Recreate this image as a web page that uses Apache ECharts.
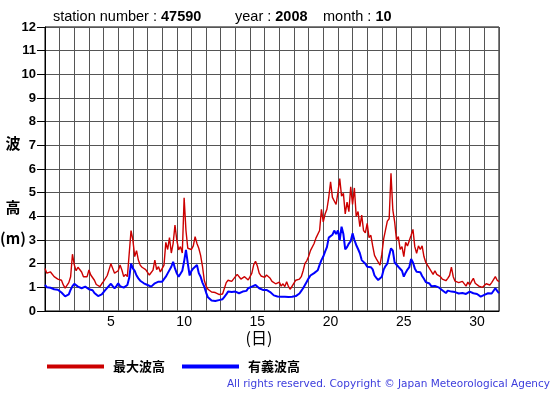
<!DOCTYPE html>
<html>
<head>
<meta charset="utf-8">
<script src="https://cdn.jsdelivr.net/npm/echarts@6/dist/echarts.min.js"></script>
<style>
html,body{margin:0;padding:0;background:#fff;}
#chart{width:555px;height:395px;}
</style>
</head>
<body>
<div id="chart"></div>
<script>
// ---- data (3-hourly samples, Oct 2008, station 47590) ----
const STEP_HOURS = 3;
const seriesNames = ['最大波高', '有義波高'];
const dayLabels = [5, 10, 15, 20, 25, 30];
const yTicks = [0,1,2,3,4,5,6,7,8,9,10,11,12];
const titleStation = '47590';
const titleYear = '2008';
const titleMonth = '10';

const maxWave = [
1.80,1.60,1.55,1.65,1.72,1.45,1.52,1.35,
1.28,1.30,1.10,0.97,1.05,1.20,1.45,2.40,
1.95,1.70,1.85,1.90,1.65,1.45,1.50,1.45,
1.73,1.52,1.60,1.30,1.12,1.08,1.03,1.15,
1.25,1.24,1.50,1.75,2.00,1.80,1.60,1.65,
1.70,1.94,1.73,1.45,1.55,1.45,1.50,3.40,
3.00,2.30,2.55,2.15,1.94,1.85,1.80,1.75,
1.70,1.52,1.60,1.73,2.15,1.75,1.87,1.65,
1.60,1.94,2.90,2.60,3.10,2.45,2.86,3.63,
3.00,2.58,2.72,2.45,4.78,3.40,2.65,2.72,
2.60,2.75,3.14,2.85,2.65,2.35,1.90,1.30,
1.05,0.92,0.85,0.80,0.75,0.78,0.82,0.70,
0.62,0.72,0.80,1.20,1.30,1.38,1.25,1.20,
1.45,1.55,1.58,1.35,1.38,1.45,1.40,1.31,
1.45,1.60,1.95,2.10,1.90,1.60,1.48,1.45,
1.42,1.52,1.45,1.38,1.25,1.20,1.15,1.08,
1.22,1.05,1.15,1.03,1.24,1.03,0.92,1.05,
1.18,1.30,1.38,1.35,1.45,1.70,2.01,2.12,
2.30,2.55,2.50,2.85,3.08,3.10,3.40,4.30,
3.77,4.10,4.30,4.80,5.46,4.80,4.85,4.50,
5.00,5.60,4.85,4.97,4.10,4.60,4.20,5.25,
4.50,5.20,4.00,4.20,3.56,4.05,3.40,3.30,
3.70,3.10,3.20,2.75,2.35,2.20,2.23,1.94,
2.40,3.05,3.00,3.80,3.90,5.82,4.27,3.77,
3.00,3.14,2.60,2.72,2.30,2.90,2.75,2.70,
3.20,3.45,2.72,2.44,2.75,2.60,2.75,2.30,
2.05,2.10,1.80,1.85,1.55,1.70,1.55,1.62,
1.45,1.35,1.40,1.28,1.38,1.50,1.85,1.45,
1.26,1.30,1.20,1.22,1.25,1.30,1.05,1.22,
1.10,1.25,1.38,1.17,1.20,1.05,0.98,1.00,
1.05,1.15,1.12,1.10,1.20,1.25,1.45,1.30,
1.24
];

const sigWave = [
1.10,1.00,0.96,0.98,1.00,0.92,0.89,0.90,
0.85,0.78,0.72,0.62,0.63,0.70,0.90,1.05,
1.15,1.12,1.03,0.98,0.96,1.00,1.03,0.95,
0.92,0.89,0.88,0.76,0.70,0.63,0.66,0.70,
0.80,0.89,0.98,1.05,1.15,1.05,0.96,1.05,
1.17,1.05,1.02,0.99,0.98,1.10,1.40,2.00,
1.80,1.70,1.50,1.38,1.28,1.22,1.17,1.12,
1.10,1.05,1.03,1.10,1.17,1.22,1.24,1.25,
1.24,1.35,1.45,1.59,1.65,1.87,2.08,1.80,
1.59,1.45,1.38,1.70,2.10,2.58,2.01,1.50,
1.70,1.80,1.87,1.94,1.60,1.45,1.20,1.03,
0.78,0.58,0.52,0.44,0.44,0.42,0.44,0.46,
0.44,0.50,0.60,0.70,0.82,0.82,0.80,0.82,
0.82,0.80,0.75,0.80,0.82,0.82,0.85,0.96,
1.00,1.03,1.08,1.10,1.02,0.96,0.92,0.89,
0.90,0.89,0.85,0.80,0.72,0.66,0.63,0.61,
0.61,0.60,0.58,0.60,0.61,0.59,0.58,0.60,
0.61,0.63,0.68,0.74,0.85,0.96,1.10,1.24,
1.38,1.50,1.55,1.60,1.64,1.72,1.95,2.15,
2.30,2.51,2.70,3.10,3.18,3.22,3.40,3.25,
3.40,3.00,3.56,3.25,2.60,2.70,2.85,2.95,
3.28,3.00,2.79,2.62,2.44,2.15,2.23,2.00,
1.87,1.94,1.85,1.76,1.50,1.40,1.31,1.24,
1.45,1.75,1.90,2.00,2.35,2.65,2.55,2.05,
2.08,1.87,1.94,1.70,1.45,1.62,1.75,1.85,
2.20,2.05,1.80,1.66,1.73,1.64,1.48,1.36,
1.22,1.14,1.16,1.05,1.10,1.06,1.03,1.00,
0.95,0.88,0.80,0.76,0.86,0.83,0.82,0.82,
0.80,0.76,0.74,0.72,0.76,0.75,0.72,0.78,
0.82,0.78,0.75,0.73,0.72,0.66,0.61,0.66,
0.68,0.74,0.75,0.72,0.74,0.82,0.96,0.85,
0.75
];

// ---- chart ----
const toPairs = arr => arr.map((v, i) => [i * STEP_HOURS / 24, v]);
const GRID = {left: 45, top: 27, width: 454, height: 284};
const FONT = 'Liberation Sans, Arial, sans-serif';
const CJK = 'Noto Sans CJK JP, sans-serif';
const richTitle = {
  r: {fontSize: 14.5, fontFamily: FONT, fill: '#000', color: '#000'},
  b: {fontSize: 14.5, fontWeight: 'bold', fontFamily: FONT, fill: '#000', color: '#000'}
};

const chart = echarts.init(document.getElementById('chart'), null, {renderer: 'canvas'});
chart.setOption({
  animation: false,
  backgroundColor: '#fff',
  grid: Object.assign({show: true, borderColor: '#000', borderWidth: 1, backgroundColor: 'transparent'}, GRID),
  xAxis: [
    {
      type: 'value', min: 0, max: 31, interval: 1,
      axisLine: {show: true, lineStyle: {color: '#000', width: 1}},
      axisTick: {show: false},
      axisLabel: {show: false},
      splitLine: {show: true, lineStyle: {color: '#555', width: 1}}
    },
    {
      type: 'value', min: 0.5, max: 31.5, interval: 0.5, position: 'bottom',
      axisLine: {show: false}, axisTick: {show: false}, splitLine: {show: false},
      axisLabel: {
        show: true, margin: 4, color: '#000', fontSize: 14, fontFamily: FONT,
        formatter: v => (dayLabels.indexOf(v) >= 0 ? String(v) : '')
      }
    }
  ],
  yAxis: {
    type: 'value', min: yTicks[0], max: yTicks[yTicks.length - 1], interval: 1,
    axisLine: {show: true, lineStyle: {color: '#000', width: 1}},
    axisTick: {show: true, length: 8, lineStyle: {color: '#000'}},
    axisLabel: {margin: 9, color: '#000', fontSize: 13, fontWeight: 'bold', fontFamily: FONT},
    splitLine: {show: true, lineStyle: {color: '#555', width: 1}}
  },
  legend: {
    left: 42, top: 355,
    icon: 'rect', itemWidth: 57, itemHeight: 4, itemGap: 17,
    textStyle: {fontSize: 13, fontWeight: 'bold', color: '#000', fontFamily: CJK, padding: [0, 0, 0, 4]},
    data: seriesNames
  },
  series: [
    {
      name: seriesNames[0], type: 'line', xAxisIndex: 0, showSymbol: false,
      color: '#cc0000',
      lineStyle: {color: '#cc0000', width: 1.4},
      data: toPairs(maxWave)
    },
    {
      name: seriesNames[1], type: 'line', xAxisIndex: 0, showSymbol: false,
      color: '#0000ff',
      lineStyle: {color: '#0000ff', width: 2},
      data: toPairs(sigWave)
    }
  ],
  graphic: [
    {type: 'text', left: 53, top: 9, style: {text: '{r|station number : }{b|' + titleStation + '}', rich: richTitle}},
    {type: 'text', left: 235, top: 9, style: {text: '{r|year : }{b|' + titleYear + '}', rich: richTitle}},
    {type: 'text', left: 323, top: 9, style: {text: '{r|month : }{b|' + titleMonth + '}', rich: richTitle}},
    {type: 'text', x: 13, y: 143, style: {text: '波', fontSize: 15, fontWeight: 'bold', fontFamily: CJK, fill: '#000', align: 'center', verticalAlign: 'middle'}},
    {type: 'text', x: 13, y: 207, style: {text: '高', fontSize: 15, fontWeight: 'bold', fontFamily: CJK, fill: '#000', align: 'center', verticalAlign: 'middle'}},
    {type: 'text', x: 13, y: 238, style: {text: '(m)', fontSize: 15, fontWeight: 'bold', fontFamily: CJK, fill: '#000', align: 'center', verticalAlign: 'middle'}},
    {type: 'text', x: 259, y: 338, style: {text: '(日)', fontSize: 16, fontFamily: CJK, fill: '#000', align: 'center', verticalAlign: 'middle'}},
    {type: 'text', x: 550, y: 384, style: {text: 'All rights reserved. Copyright © Japan Meteorological Agency', fontSize: 10.5, fontFamily: 'DejaVu Sans, sans-serif', fill: '#3c3cdc', align: 'right', verticalAlign: 'middle'}}
  ]
});
</script>
</body>
</html>
